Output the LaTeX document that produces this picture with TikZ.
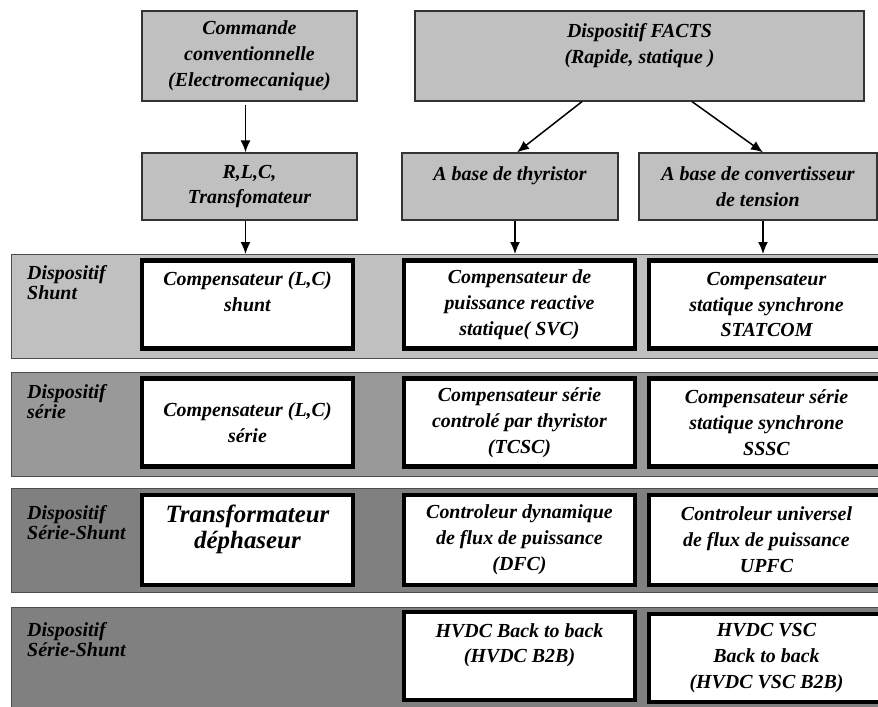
\documentclass[tikz,border=0pt]{standalone}
\usepackage{fontspec}
\setmainfont{Liberation Serif}
\usepackage{tikz}
\usetikzlibrary{positioning}
\usetikzlibrary{calc}
\usetikzlibrary{arrows.meta}
\definecolor{boxgray}{HTML}{C0C0C0}
\definecolor{bandlight}{HTML}{C0C0C0}
\definecolor{bandmid}{HTML}{999999}
\definecolor{banddark}{HTML}{808080}
\tikzset{>=stealth}
\tikzstyle{line} = [draw, -{Latex[length=12bp,width=10bp]}, line width=1.5bp]

\begin{document}
\begin{tikzpicture}[x=1bp, y=-1bp,
	every node/.style={font=\fontsize{20}{26}\selectfont\bfseries\itshape, align=center},
	gbox/.style={draw=black!80, fill=boxgray, line width=1.2bp, inner sep=0pt},
	wbox/.style={draw=black, fill=white, line width=4.5bp, inner sep=0pt, minimum height=88bp},
	band/.style={fill=#1, draw=black!70, line width=1bp, inner sep=0pt,
		anchor=north west, minimum width=875bp, minimum height=104bp},
	side/.style={anchor=north west, align=left, inner sep=0pt,
		font=\fontsize{20}{20}\selectfont\bfseries\itshape}]
	\useasboundingbox (0,0) rectangle (878,707);
	%% Bands
	\node [band=bandlight] at (11,254) (band1) {};
	\node [band=bandmid] at (11,372) (band2) {};
	\node [band=banddark] at (11,488) (band3) {};
	\node [band=banddark, minimum height=110bp] at (11,607) (band4) {};
	\node [side] at (27,265) (side1) {Dispositif\\Shunt};
	\node [side] at (27,384) (side2) {Dispositif\\série};
	\node [side] at (27,505) (side3) {Dispositif\\Série-Shunt};
	\node [side] at (27,622) (side4) {Dispositif\\Série-Shunt};
	%% Top boxes
	\node [gbox, minimum width=215bp, minimum height=90bp] at (249.5,56) (cmd) {Commande\\conventionnelle\\(Electromecanique)};
	\node [gbox, minimum width=449bp, minimum height=90bp] at (639.5,56) (facts) {Dispositif FACTS\\(Rapide, statique )\\\mbox{}};
	\node [gbox, minimum width=215bp, minimum height=67bp] at (249.5,186.5) (rlc) {R,L,C,\\Transfomateur};
	\node [gbox, minimum width=216bp, minimum height=67bp] at (510,186.5) (thy) {A base de thyristor\\\mbox{}};
	\node [gbox, minimum width=238bp, minimum height=67bp] at (758,186.5) (conv) {A base de convertisseur\\de tension};
	%% Devices
	\node [wbox, minimum width=211bp] at (247.5,304.5) (shL) {Compensateur (L,C)\\shunt\\\mbox{}};
	\node [wbox, minimum width=231bp] at (519.5,304.5) (shM) {Compensateur de\\puissance reactive\\statique( SVC)};
	\node [wbox, minimum width=235bp] at (766.5,304.5) (shR) {Compensateur\\statique synchrone\\STATCOM};
	\node [wbox, minimum width=211bp] at (247.5,422.5) (seL) {Compensateur (L,C)\\série};
	\node [wbox, minimum width=231bp] at (519.5,422.5) (seM) {Compensateur série\\controlé par thyristor\\(TCSC)};
	\node [wbox, minimum width=235bp] at (766.5,422.5) (seR) {Compensateur série\\statique synchrone\\SSSC};
	\node [wbox, minimum width=211bp, minimum height=90bp, font=\fontsize{25}{26}\selectfont\bfseries\itshape] at (247.5,540) (ssL) {Transformateur\\déphaseur\\\mbox{}};
	\node [wbox, minimum width=231bp, minimum height=90bp] at (519.5,540) (ssM) {Controleur dynamique\\de flux de puissance\\(DFC)};
	\node [wbox, minimum width=235bp, minimum height=90bp] at (766.5,540) (ssR) {Controleur universel\\de flux de puissance\\UPFC};
	\node [wbox, minimum width=231bp] at (519.5,656) (hvM) {HVDC Back to back\\(HVDC B2B)\\\mbox{}};
	\node [wbox, minimum width=235bp] at (766.5,658) (hvR) {HVDC VSC\\Back to back\\(HVDC VSC B2B)};
	%% Arrows
	\path [line] ($(cmd.south)+(-4,3)$) to ($(rlc.north)+(-4,0)$);
	\path [line] ($(facts.south)+(-57.5,0)$) to ($(thy.north)+(7,0)$);
	\path [line] ($(facts.south)+(52.5,0)$) to ($(conv.north)+(5,0)$);
	\path [line] ($(rlc.south)+(-4,0)$) to ($(rlc.south |- band1.north)+(-4,0)$);
	\path [line] ($(thy.south)+(5,0)$) to ($(thy.south |- band1.north)+(5,0)$);
	\path [line] ($(conv.south)+(5,0)$) to ($(conv.south |- band1.north)+(5,0)$);
\end{tikzpicture}
\end{document}
